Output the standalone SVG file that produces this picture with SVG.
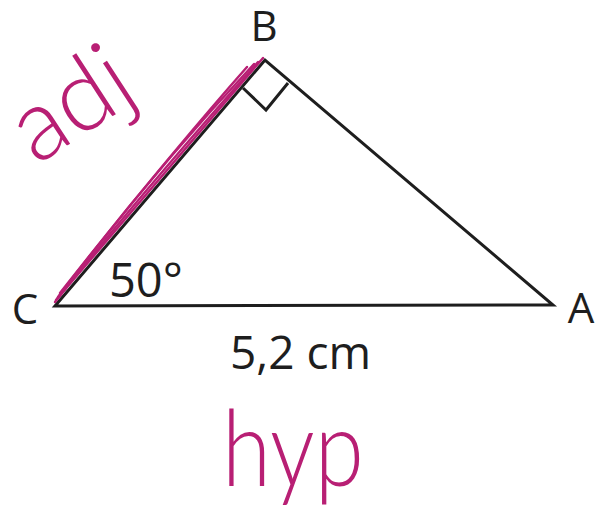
<svg xmlns="http://www.w3.org/2000/svg" width="603" height="526" viewBox="0 0 603 526">
<style>
.lbl{font-family:"Open Sans","Noto Sans","Liberation Sans",sans-serif;fill:#1e1e1e}
.edge{fill:none;stroke:#1e1e1e;stroke-width:3;stroke-linejoin:miter}
.ink{fill:none;stroke:#b81f74;stroke-width:2.4;stroke-linecap:round}
.hand{font-family:"Lato","Open Sans","Noto Sans",sans-serif;font-weight:300;fill:#b81f74}
</style>
<rect width="603" height="526" fill="#ffffff"/>
<g id="triangle">
<polygon class="edge" points="55,306 265,60 553,305"/>
<polyline class="edge" stroke-width="2.6" points="243,88 266,110 288,83"/>
</g>
<g id="labels">
<text class="lbl" x="264" y="41" font-size="42" text-anchor="middle">B</text>
<text class="lbl" x="25" y="324" font-size="42" text-anchor="middle">C</text>
<text class="lbl" x="581" y="323" font-size="42" text-anchor="middle">A</text>
<text class="lbl" x="109" y="297" font-size="47">50°</text>
<text class="lbl" x="230" y="369" font-size="46">5,2 cm</text>
</g>
<g id="annotations">
<path class="ink" d="M56,300 L263,58"/>
<path class="ink" d="M58,297 Q150,175 254,64"/>
<path class="ink" d="M60,293 Q165,160 247,67"/>
<path class="ink" d="M57,299 Q140,195 258,62"/>
<path class="ink" stroke-width="4" d="M55,302 L66,288"/>
<text class="hand" font-size="100" transform="translate(36,166) rotate(-33)">adj</text>
<text class="hand" font-size="106" transform="translate(222,486) scale(0.84,1)">hyp</text>
</g>
</svg>
